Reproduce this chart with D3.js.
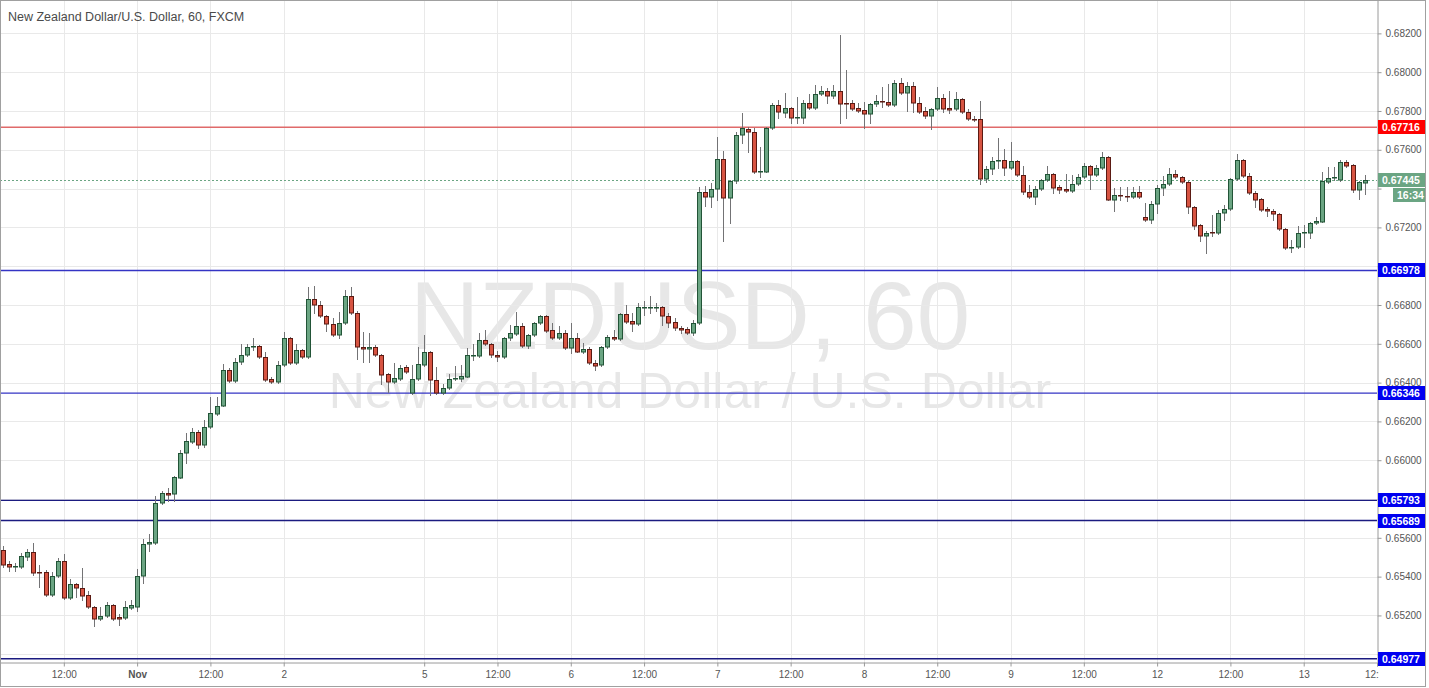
<!DOCTYPE html>
<html>
<head>
<meta charset="utf-8">
<title>NZDUSD, 60</title>
<script src="https://cdn.jsdelivr.net/npm/d3@7"></script>
<style>
  body { margin: 0; background: #fff; }
  #chart { width: 1429px; height: 688px; }
</style>
</head>
<body>
<div id="chart"></div>
<script>
// Hourly NZD/USD bars, bar 0 = left edge of the chart
const opens = [
  0.65537,0.65465,0.65449,0.65449,0.65501,0.65526,0.65423,0.65423,0.65305,0.65403,
  0.65480,0.65289,0.65362,0.65341,0.65305,0.65243,0.65181,0.65196,0.65253,0.65191,
  0.65186,0.65238,0.65243,0.65403,0.65568,0.65573,0.65779,0.65831,0.65825,0.65908,
  0.66037,0.66093,0.66145,0.66078,0.66171,0.66238,0.66279,0.66465,0.66408,0.66506,
  0.66542,0.66583,0.66588,0.66532,0.66418,0.66403,0.66490,0.66630,0.66501,0.66568,
  0.66532,0.66831,0.66800,0.66743,0.66702,0.66645,0.66707,0.66846,0.66759,0.66583,
  0.66573,0.66583,0.66542,0.66444,0.66403,0.66418,0.66480,0.66346,0.66418,0.66490,
  0.66557,0.66413,0.66346,0.66372,0.66418,0.66418,0.66429,0.66537,0.66537,0.66619,
  0.66599,0.66542,0.66532,0.66630,0.66650,0.66692,0.66588,0.66645,0.66707,0.66743,
  0.66671,0.66630,0.66655,0.66578,0.66630,0.66557,0.66573,0.66501,0.66490,0.66583,
  0.66635,0.66625,0.66753,0.66717,0.66702,0.66784,0.66784,0.66784,0.66789,0.66743,
  0.66712,0.66681,0.66676,0.66655,0.66707,0.67382,0.67356,0.67398,0.67552,0.67351,
  0.67439,0.67676,0.67707,0.67692,0.67485,0.67485,0.67712,0.67831,0.67789,0.67815,
  0.67764,0.67764,0.67841,0.67815,0.67887,0.67903,0.67877,0.67903,0.67841,0.67841,
  0.67815,0.67805,0.67784,0.67836,0.67851,0.67846,0.67831,0.67944,0.67893,0.67929,
  0.67841,0.67800,0.67774,0.67810,0.67867,0.67815,0.67810,0.67862,0.67795,0.67759,
  0.67759,0.67449,0.67501,0.67542,0.67547,0.67506,0.67542,0.67470,0.67382,0.67356,
  0.67398,0.67444,0.67475,0.67408,0.67398,0.67387,0.67424,0.67460,0.67516,0.67470,
  0.67506,0.67563,0.67341,0.67367,0.67362,0.67356,0.67382,0.67253,0.67238,0.67320,
  0.67403,0.67424,0.67475,0.67460,0.67434,0.67305,0.67212,0.67155,0.67176,0.67171,
  0.67274,0.67295,0.67449,0.67547,0.67465,0.67377,0.67346,0.67295,0.67284,0.67269,
  0.67191,0.67094,0.67099,0.67171,0.67171,0.67222,0.67228,0.67434,0.67454,0.67444,
  0.67537,0.67521,0.67392,0.67429
];
const highs = [
  0.65557,0.65480,0.65470,0.65521,0.65542,0.65573,0.65459,0.65434,0.65423,0.65496,
  0.65516,0.65387,0.65367,0.65444,0.65325,0.65248,0.65243,0.65269,0.65258,0.65207,
  0.65274,0.65279,0.65439,0.65594,0.65619,0.65815,0.65841,0.65856,0.65918,0.66052,
  0.66140,0.66166,0.66155,0.66207,0.66325,0.66325,0.66496,0.66475,0.66527,0.66599,
  0.66599,0.66630,0.66594,0.66557,0.66429,0.66511,0.66660,0.66635,0.66599,0.66573,
  0.66893,0.66898,0.66820,0.66748,0.66733,0.66764,0.66877,0.66893,0.66769,0.66660,
  0.66655,0.66594,0.66547,0.66449,0.66501,0.66490,0.66490,0.66490,0.66583,0.66645,
  0.66563,0.66480,0.66392,0.66444,0.66485,0.66490,0.66578,0.66599,0.66655,0.66671,
  0.66604,0.66563,0.66635,0.66697,0.66764,0.66707,0.66650,0.66712,0.66748,0.66748,
  0.66707,0.66692,0.66671,0.66707,0.66655,0.66604,0.66583,0.66516,0.66588,0.66645,
  0.66671,0.66759,0.66800,0.66759,0.66810,0.66820,0.66846,0.66810,0.66795,0.66759,
  0.66733,0.66692,0.66686,0.66722,0.67408,0.67413,0.67429,0.67666,0.67594,0.67444,
  0.67692,0.67789,0.67717,0.67712,0.67614,0.67717,0.67841,0.67856,0.67893,0.67820,
  0.67872,0.67856,0.67887,0.67934,0.67929,0.67918,0.67934,0.68192,0.68011,0.67856,
  0.67841,0.67846,0.67841,0.67882,0.67924,0.67939,0.67960,0.67970,0.67949,0.67949,
  0.67872,0.67820,0.67815,0.67924,0.67887,0.67903,0.67898,0.67867,0.67810,0.67774,
  0.67851,0.67516,0.67563,0.67661,0.67604,0.67640,0.67547,0.67516,0.67418,0.67413,
  0.67449,0.67516,0.67480,0.67418,0.67475,0.67470,0.67475,0.67532,0.67521,0.67521,
  0.67588,0.67568,0.67403,0.67408,0.67408,0.67408,0.67413,0.67326,0.67336,0.67418,
  0.67465,0.67506,0.67496,0.67465,0.67439,0.67310,0.67217,0.67181,0.67264,0.67289,
  0.67315,0.67454,0.67578,0.67552,0.67480,0.67387,0.67351,0.67305,0.67295,0.67274,
  0.67197,0.67135,0.67207,0.67212,0.67228,0.67253,0.67485,0.67511,0.67511,0.67547,
  0.67547,0.67527,0.67439,0.67470
];
const lows = [
  0.65449,0.65428,0.65428,0.65444,0.65485,0.65408,0.65346,0.65300,0.65300,0.65398,
  0.65284,0.65284,0.65294,0.65279,0.65238,0.65145,0.65176,0.65191,0.65176,0.65150,
  0.65181,0.65233,0.65222,0.65367,0.65532,0.65568,0.65774,0.65789,0.65789,0.65908,
  0.65985,0.66088,0.66063,0.66068,0.66166,0.66233,0.66279,0.66403,0.66403,0.66496,
  0.66537,0.66568,0.66527,0.66408,0.66398,0.66398,0.66485,0.66496,0.66496,0.66527,
  0.66527,0.66759,0.66738,0.66666,0.66640,0.66630,0.66702,0.66753,0.66521,0.66506,
  0.66506,0.66537,0.66392,0.66351,0.66398,0.66413,0.66449,0.66341,0.66413,0.66485,
  0.66336,0.66341,0.66341,0.66367,0.66413,0.66408,0.66429,0.66516,0.66532,0.66594,
  0.66532,0.66511,0.66527,0.66619,0.66645,0.66583,0.66578,0.66640,0.66702,0.66660,
  0.66625,0.66625,0.66573,0.66552,0.66557,0.66552,0.66496,0.66465,0.66485,0.66578,
  0.66619,0.66619,0.66707,0.66666,0.66697,0.66748,0.66759,0.66769,0.66697,0.66686,
  0.66671,0.66655,0.66650,0.66645,0.66702,0.67310,0.67305,0.67341,0.67130,0.67222,
  0.67429,0.67635,0.67588,0.67480,0.67460,0.67485,0.67707,0.67764,0.67769,0.67738,
  0.67738,0.67738,0.67810,0.67810,0.67882,0.67841,0.67867,0.67738,0.67764,0.67805,
  0.67795,0.67712,0.67738,0.67826,0.67820,0.67826,0.67826,0.67887,0.67800,0.67795,
  0.67789,0.67764,0.67707,0.67805,0.67795,0.67789,0.67805,0.67789,0.67753,0.67748,
  0.67424,0.67434,0.67475,0.67506,0.67470,0.67501,0.67465,0.67372,0.67351,0.67320,
  0.67392,0.67439,0.67377,0.67377,0.67382,0.67382,0.67418,0.67454,0.67398,0.67465,
  0.67501,0.67341,0.67284,0.67341,0.67336,0.67351,0.67351,0.67233,0.67222,0.67274,
  0.67367,0.67418,0.67454,0.67429,0.67274,0.67191,0.67130,0.67068,0.67155,0.67166,
  0.67238,0.67289,0.67444,0.67460,0.67372,0.67305,0.67284,0.67259,0.67238,0.67186,
  0.67088,0.67073,0.67094,0.67099,0.67145,0.67217,0.67228,0.67429,0.67444,0.67439,
  0.67511,0.67382,0.67346,0.67372
];
const closes = [
  0.65459,0.65449,0.65454,0.65506,0.65526,0.65418,0.65418,0.65305,0.65403,0.65480,
  0.65289,0.65362,0.65341,0.65300,0.65243,0.65181,0.65196,0.65253,0.65181,0.65181,
  0.65243,0.65253,0.65403,0.65568,0.65578,0.65779,0.65831,0.65820,0.65913,0.66037,
  0.66099,0.66145,0.66078,0.66171,0.66243,0.66279,0.66465,0.66408,0.66506,0.66542,
  0.66583,0.66588,0.66532,0.66413,0.66403,0.66490,0.66630,0.66501,0.66568,0.66532,
  0.66831,0.66800,0.66743,0.66702,0.66645,0.66707,0.66846,0.66759,0.66583,0.66573,
  0.66583,0.66542,0.66439,0.66403,0.66423,0.66475,0.66454,0.66418,0.66496,0.66557,
  0.66413,0.66346,0.66372,0.66418,0.66423,0.66434,0.66542,0.66542,0.66619,0.66599,
  0.66542,0.66532,0.66630,0.66655,0.66692,0.66588,0.66645,0.66707,0.66743,0.66666,
  0.66630,0.66655,0.66578,0.66630,0.66557,0.66573,0.66501,0.66485,0.66583,0.66635,
  0.66625,0.66753,0.66712,0.66702,0.66789,0.66789,0.66789,0.66789,0.66743,0.66707,
  0.66681,0.66671,0.66655,0.66707,0.67382,0.67356,0.67398,0.67552,0.67351,0.67439,
  0.67676,0.67712,0.67692,0.67485,0.67490,0.67712,0.67831,0.67795,0.67815,0.67764,
  0.67769,0.67841,0.67815,0.67887,0.67903,0.67877,0.67903,0.67836,0.67836,0.67810,
  0.67800,0.67784,0.67836,0.67851,0.67846,0.67831,0.67944,0.67893,0.67929,0.67841,
  0.67795,0.67774,0.67810,0.67867,0.67810,0.67805,0.67862,0.67795,0.67759,0.67753,
  0.67449,0.67501,0.67542,0.67547,0.67506,0.67542,0.67470,0.67382,0.67356,0.67398,
  0.67444,0.67475,0.67403,0.67392,0.67387,0.67424,0.67460,0.67516,0.67470,0.67506,
  0.67563,0.67341,0.67367,0.67362,0.67356,0.67382,0.67356,0.67238,0.67320,0.67403,
  0.67424,0.67475,0.67460,0.67434,0.67305,0.67207,0.67155,0.67171,0.67171,0.67274,
  0.67295,0.67449,0.67547,0.67465,0.67377,0.67341,0.67289,0.67284,0.67269,0.67191,
  0.67094,0.67099,0.67171,0.67176,0.67222,0.67233,0.67439,0.67454,0.67460,0.67537,
  0.67516,0.67392,0.67434,0.67445
];

// Time axis: bar index of each label and its text
const timeTickBars = [10, 22, 34, 46, 69, 81, 93, 105, 117, 129, 141, 153, 165, 177, 189, 201, 213, 225];
const timeTickLabels = ["12:00", "Nov", "12:00", "2", "5", "12:00", "6", "12:00", "7", "12:00",
                        "8", "12:00", "9", "12:00", "12", "12:00", "13", "12:00"];

// Price axis ticks
const priceTicks = [0.650, 0.652, 0.654, 0.656, 0.658, 0.660, 0.662, 0.664, 0.666, 0.668,
                    0.670, 0.672, 0.674, 0.676, 0.678, 0.680, 0.682];

// Horizontal levels drawn by hand on the chart
const resistanceLevels = [0.67716];
const supportLevels = [0.66978, 0.66346, 0.65793, 0.65689, 0.64977];

const lastPrice = 0.67445;
const barCountdown = "16:34";
const chartTitle = "New Zealand Dollar/U.S. Dollar, 60, FXCM";
const symbolName = "NZDUSD, 60";
const symbolDescription = "New Zealand Dollar / U.S. Dollar";

// Build the bar objects
const bars = d3.range(opens.length).map(i => ({
    i: i, open: opens[i], high: highs[i], low: lows[i], close: closes[i]
}));

function drawChart() {
    const width = 1429, height = 688;
    const plotRight = 1377, plotBottom = 662;
    const font = "'Liberation Sans', Arial, sans-serif";

    const upFill = "#6ba583", upBorder = "#225437";
    const downFill = "#d75442", downBorder = "#5b1a13";

    const svg = d3.select("#chart")
        .append("svg")
        .attr("width", width)
        .attr("height", height)
        .style("font-family", font);

    svg.append("rect").attr("width", width).attr("height", height).attr("fill", "#fff");

    // Scales: bar index -> x, price -> y
    const x = d3.scaleLinear().domain([-0.45, 225]).range([0, plotRight]);
    const y = d3.scaleLinear().domain([0.64960, 0.68372]).range([plotBottom, 0]);
    const px = v => Math.round(v) + 0.5;

    const defs = svg.append("defs");
    defs.append("clipPath")
        .attr("id", "plot-clip")
        .append("rect")
        .attr("width", plotRight)
        .attr("height", plotBottom);
    defs.append("clipPath")
        .attr("id", "time-clip")
        .append("rect")
        .attr("x", 0).attr("y", -1)
        .attr("width", plotRight + 2)
        .attr("height", 30);

    const plot = svg.append("g").attr("clip-path", "url(#plot-clip)");

    // Watermark
    plot.append("text")
        .attr("x", 690).attr("y", 349)
        .attr("text-anchor", "middle")
        .attr("font-size", 96)
        .attr("fill", "#e7e7e7")
        .text(symbolName);
    plot.append("text")
        .attr("x", 690).attr("y", 408)
        .attr("text-anchor", "middle")
        .attr("font-size", 50)
        .attr("fill", "#e7e7e7")
        .text(symbolDescription);

    // Grid
    plot.selectAll(".vgrid")
        .data(timeTickBars)
        .enter().append("line")
        .attr("x1", d => px(x(d))).attr("x2", d => px(x(d)))
        .attr("y1", 0).attr("y2", plotBottom)
        .attr("stroke", "#e9e9e9");
    plot.selectAll(".hgrid")
        .data(priceTicks)
        .enter().append("line")
        .attr("x1", 0).attr("x2", plotRight)
        .attr("y1", d => px(y(d))).attr("y2", d => px(y(d)))
        .attr("stroke", "#e9e9e9");

    // Horizontal levels
    plot.selectAll(".res")
        .data(resistanceLevels)
        .enter().append("line")
        .attr("x1", 0).attr("x2", plotRight)
        .attr("y1", d => y(d)).attr("y2", d => y(d))
        .attr("stroke", "#e06a6a")
        .attr("stroke-width", 1.6);
    plot.selectAll(".sup")
        .data(supportLevels)
        .enter().append("line")
        .attr("x1", 0).attr("x2", plotRight)
        .attr("y1", d => y(d)).attr("y2", d => y(d))
        .attr("stroke", (d, i) => i < 2 ? "#3434c4" : "#1b1b80")
        .attr("stroke-width", 1.4);

    // Last price line
    plot.append("line")
        .attr("x1", 0).attr("x2", plotRight)
        .attr("y1", px(y(lastPrice))).attr("y2", px(y(lastPrice)))
        .attr("stroke", upFill)
        .attr("stroke-dasharray", "2,2");

    // Candles
    const candle = plot.selectAll(".candle")
        .data(bars)
        .enter().append("g")
        .attr("class", "candle");

    candle.append("line")
        .attr("x1", d => px(x(d.i))).attr("x2", d => px(x(d.i)))
        .attr("y1", d => Math.round(y(d.high))).attr("y2", d => Math.round(y(d.low)) + 1)
        .attr("stroke", "#737375");

    candle.append("rect")
        .attr("x", d => Math.round(x(d.i)) - 1.5)
        .attr("y", d => Math.round(y(Math.max(d.open, d.close))) + 0.5)
        .attr("width", 4)
        .attr("height", d => Math.max(0.5, Math.round(Math.abs(y(d.open) - y(d.close))) - 0.5))
        .attr("fill", d => d.close >= d.open ? upFill : downFill)
        .attr("stroke", d => d.close >= d.open ? upBorder : downBorder)
        .attr("stroke-width", 1);

    // Title
    svg.append("text")
        .attr("x", 8).attr("y", 21)
        .attr("font-size", 12.5)
        .attr("fill", "#4a4a4a")
        .text(chartTitle);

    // Price axis; labels hidden where a price tag sits on them
    const tagPrices = resistanceLevels.concat(supportLevels, [lastPrice]);
    const hidden = d => tagPrices.some(p => Math.abs(y(p) - y(d)) < 9);
    const yAxis = svg.append("g")
        .attr("transform", `translate(${plotRight + 0.5},0)`)
        .call(d3.axisRight(y).tickValues(priceTicks)
            .tickFormat(d => hidden(d) ? "" : d3.format(".5f")(d))
            .tickSize(4).tickPadding(4));
    yAxis.select(".domain").attr("stroke", "#9a9a9a");
    yAxis.selectAll(".tick line").attr("stroke", "#9a9a9a");
    yAxis.selectAll(".tick text")
        .attr("fill", "#555")
        .attr("font-size", 10)
        .attr("font-family", font);

    // Time axis
    const xAxis = svg.append("g")
        .attr("transform", `translate(0,${plotBottom + 0.5})`)
        .attr("clip-path", "url(#time-clip)")
        .call(d3.axisBottom(x).tickValues(timeTickBars)
            .tickFormat((d, i) => timeTickLabels[i]).tickSize(4).tickPadding(4));
    xAxis.select(".domain").attr("stroke", "#9a9a9a");
    xAxis.selectAll(".tick line").attr("stroke", "#9a9a9a");
    xAxis.selectAll(".tick text")
        .attr("fill", "#555")
        .attr("font-size", 10)
        .attr("font-family", font)
        .attr("font-weight", (d, i) => timeTickLabels[i] === "Nov" ? "bold" : "normal");

    // Price labels on the axis
    function priceTag(price, color, text) {
        const g = svg.append("g").attr("transform", `translate(${plotRight + 1},${Math.round(y(price))})`);
        g.append("rect")
            .attr("x", 0).attr("y", -7)
            .attr("width", 47).attr("height", 14)
            .attr("fill", color);
        g.append("text")
            .attr("x", 4).attr("y", 4)
            .attr("font-size", 10.5)
            .attr("font-weight", "bold")
            .attr("fill", "#fff")
            .text(text);
        return g;
    }
    const fmt = d3.format(".5f");
    resistanceLevels.forEach(p => priceTag(p, "#ff0000", fmt(p)));
    supportLevels.forEach(p => priceTag(p, "#0000f0", fmt(p)));
    const last = priceTag(lastPrice, "#6ba583", fmt(lastPrice));
    last.append("rect")
        .attr("x", 15).attr("y", 8)
        .attr("width", 32).attr("height", 14)
        .attr("fill", "#6ba583");
    last.append("text")
        .attr("x", 19).attr("y", 19)
        .attr("font-size", 10.5)
        .attr("font-weight", "bold")
        .attr("fill", "#fff")
        .text(barCountdown);

    // Frame
    svg.append("rect")
        .attr("x", 0.5).attr("y", 0.5)
        .attr("width", 1425).attr("height", 686)
        .attr("fill", "none")
        .attr("stroke", "#a0a0a0");
}

drawChart();
</script>
</body>
</html>
